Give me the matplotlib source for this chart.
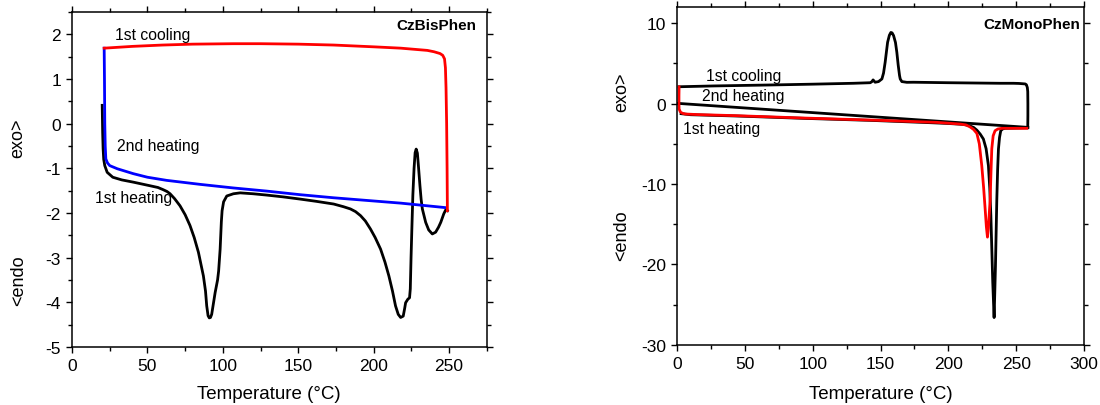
import matplotlib
matplotlib.use("Agg")
import matplotlib.pyplot as plt
from matplotlib.ticker import MultipleLocator

plt.rcParams['font.family'] = ['Liberation Sans', 'DejaVu Sans']
plt.rcParams['axes.unicode_minus'] = False

# ---- CzBisPhen (left panel) ----
bis_heat1_T = [20.0, 20.3, 20.6, 21.0, 21.7, 23.3, 27, 33, 40.6, 51.6, 57, 60.5, 63, 65, 68, 71.6, 75, 78.2,
               81, 83.8, 87.1, 88.5, 89.3, 90.2, 91, 91.8, 92.6, 94.9, 96.5, 97.2, 98.2, 99.0, 99.5, 100.5,
               102.6, 107, 111.5, 120, 129.2, 140, 151.4, 162, 173.5, 180, 184.6, 188, 191.3, 194.5, 197.9,
               201, 204.6, 207.5, 210.1, 212.5, 214.5, 216.3, 217.9, 219.6, 220.5, 221.2, 222.7, 223.8,
               224.3, 224.8, 225.3, 226.0, 226.8, 227.5, 228.2, 229.0, 229.7, 230.7, 231.5, 232.3, 234.5,
               236.5, 238.9, 241.1, 243, 244.5, 246.5, 247.8, 248.9]
bis_heat1_v = [0.41, -0.2, -0.56, -0.8, -0.94, -1.09, -1.2, -1.26, -1.31, -1.39, -1.43, -1.48, -1.52, -1.57,
               -1.68, -1.84, -2.04, -2.28, -2.55, -2.88, -3.41, -3.75, -4.08, -4.3, -4.35, -4.34, -4.27,
               -3.78, -3.5, -3.3, -2.81, -2.2, -1.95, -1.75, -1.62, -1.57, -1.55, -1.57, -1.6, -1.64, -1.69,
               -1.74, -1.80, -1.86, -1.91, -1.97, -2.06, -2.18, -2.36, -2.55, -2.81, -3.1, -3.41, -3.75,
               -4.08, -4.27, -4.34, -4.31, -4.15, -4.01, -3.93, -3.9, -3.7, -3.0, -2.4, -1.6, -1.0, -0.65,
               -0.57, -0.66, -0.95, -1.39, -1.7, -1.91, -2.21, -2.38, -2.47, -2.43, -2.32, -2.21, -2.02,
               -1.93, -1.95]

bis_cool_T = [248.9, 248.7, 248.4, 248.0, 247.6, 247.0, 245.8, 244, 240, 235.6, 225, 218, 200, 173.5, 150,
              125, 107, 80, 60, 40, 21.3]
bis_cool_v = [-1.95, -1.0, 0.0, 0.8, 1.25, 1.45, 1.53, 1.57, 1.61, 1.64, 1.67, 1.69, 1.72, 1.76, 1.78,
              1.79, 1.79, 1.78, 1.76, 1.73, 1.69]

bis_heat2_T = [21.3, 21.5, 21.7, 22.0, 22.4, 23.5, 25, 30, 40.6, 50, 62.7, 85, 107, 129, 151, 173.5, 195.7,
               218, 247.5]
bis_heat2_v = [1.69, 1.0, 0.0, -0.5, -0.79, -0.88, -0.94, -1.01, -1.12, -1.2, -1.27, -1.36, -1.44, -1.51,
               -1.59, -1.66, -1.72, -1.78, -1.88]

# ---- CzMonoPhen (right panel) ----
mono_heat1_T = [3, 10, 44.2, 93.3, 142.4, 186.6, 200, 211, 215, 218.5, 221, 223.5, 225.8, 227.8, 229.5,
                230.5, 231.3, 232.0, 232.7, 233.7, 234.2, 234.7, 235.2, 235.7, 236.3, 236.9, 237.7, 238.6,
                240, 241.7, 258.5]
mono_heat1_v = [-1.25, -1.38, -1.54, -1.83, -2.08, -2.37, -2.47, -2.58, -2.72, -2.95, -3.3, -3.8, -4.4,
                -5.6, -7.7, -10.5, -13.9, -18, -22.2, -26.6, -23.5, -20.2, -16, -11.9, -8.2, -5.65, -4.2,
                -3.37, -3.15, -3.07, -3.0]

mono_cool_T = [258.5, 258.6, 258.6, 258.5, 258.2, 257.5, 256.6, 252, 248, 238, 200, 174.3, 169.4, 165.7,
               164.5, 164, 163, 162, 161, 159.6, 158.5, 157.6, 156.5, 155.2, 154.3, 153.4, 152.2, 151,
               148.5, 146, 144.5, 143.6, 142.4, 130, 100, 68.7, 27, 1.5]
mono_cool_v = [-2.95, -1.5, 0.0, 1.5, 2.0, 2.35, 2.45, 2.51, 2.53, 2.53, 2.6, 2.66, 2.65, 2.74, 3.07, 3.49,
               4.8, 6.39, 7.6, 8.46, 8.8, 8.85, 8.5, 7.63, 6.4, 5.15, 3.8, 3.07, 2.74, 2.66, 2.95, 2.73,
               2.6, 2.53, 2.42, 2.32, 2.2, 2.1]

mono_heat2_T = [1.5, 1.4, 1.4, 1.5, 2.5, 4, 6.1, 15, 44.2, 93.3, 142.4, 191.5, 208.7, 213, 216, 218.5, 221,
                222.8, 224.6, 226, 227.1, 228.0, 228.8, 229.5, 230.2, 230.8, 231.4, 232, 233, 234.4, 236.5,
                239.4, 257.8]
mono_heat2_v = [2.08, 1.0, 0.0, -0.67, -1.05, -1.2, -1.29, -1.36, -1.5, -1.79, -2.04, -2.33, -2.54, -2.65,
                -2.9, -3.2, -3.7, -5.0, -7.7, -10.5, -13.1, -15.3, -16.6, -15.5, -13.5, -11.9, -8.5, -5.6,
                -4.0, -3.37, -3.15, -3.07, -3.07]

mono_line_T = [0.0, 258.5]
mono_line_v = [0.04, -2.95]

fig = plt.figure(figsize=(11, 4.06), dpi=100)
ax1 = fig.add_axes([0.0655, 0.143, 0.377, 0.825])
ax2 = fig.add_axes([0.6155, 0.148, 0.370, 0.832])

lw = 2.0
ax1.plot(bis_heat1_T, bis_heat1_v, color='black', lw=lw)
ax1.plot(bis_heat2_T, bis_heat2_v, color='#0000ff', lw=lw)
ax1.plot(bis_cool_T, bis_cool_v, color='#ff0000', lw=lw)

ax2.plot(mono_line_T, mono_line_v, color='black', lw=lw)
ax2.plot(mono_heat1_T, mono_heat1_v, color='black', lw=lw)
ax2.plot(mono_cool_T, mono_cool_v, color='black', lw=lw)
ax2.plot(mono_heat2_T, mono_heat2_v, color='#ff0000', lw=lw)

ax1.set_xlim(0, 275)
ax1.set_ylim(-5, 2.5)
ax1.xaxis.set_major_locator(MultipleLocator(50))
ax1.xaxis.set_minor_locator(MultipleLocator(25))
ax1.yaxis.set_major_locator(MultipleLocator(1))
ax1.yaxis.set_minor_locator(MultipleLocator(0.5))

ax2.set_xlim(0, 300)
ax2.set_ylim(-30, 12)
ax2.xaxis.set_major_locator(MultipleLocator(50))
ax2.xaxis.set_minor_locator(MultipleLocator(25))
ax2.yaxis.set_major_locator(MultipleLocator(10))
ax2.yaxis.set_minor_locator(MultipleLocator(5))

for ax in (ax1, ax2):
    ax.tick_params(which='both', direction='out', top=True, right=True, labelsize=12.5, width=1.0)
    ax.tick_params(which='major', length=4.5)
    ax.tick_params(which='minor', length=3)
    for sp in ax.spines.values():
        sp.set_linewidth(1.1)
    ax.set_xlabel('Temperature (°C)', fontsize=13.5, labelpad=5)

ax1.xaxis.set_label_coords(0.475, -0.115)
ax2.xaxis.set_label_coords(0.5, -0.12)

# y labels: exo> on top, <endo below
ax1.text(-0.13, 0.627, 'exo>', transform=ax1.transAxes, rotation=90, ha='center', va='center', fontsize=13)
ax1.text(-0.13, 0.20, '<endo', transform=ax1.transAxes, rotation=90, ha='center', va='center', fontsize=13)
ax2.text(-0.135, 0.75, 'exo>', transform=ax2.transAxes, rotation=90, ha='center', va='center', fontsize=13)
ax2.text(-0.135, 0.325, '<endo', transform=ax2.transAxes, rotation=90, ha='center', va='center', fontsize=13)

fs = 11.3
ax1.text(28.4, 2.0, '1st cooling', fontsize=fs, va='center')
ax1.text(29.9, -0.49, '2nd heating', fontsize=fs, va='center')
ax1.text(15.1, -1.66, '1st heating', fontsize=fs, va='center')
ax1.text(268.4, 2.21, 'CzBisPhen', fontsize=11, fontweight='bold', ha='right', va='center')

ax2.text(21.6, 3.56, '1st cooling', fontsize=fs, va='center')
ax2.text(18.4, 1.07, '2nd heating', fontsize=fs, va='center')
ax2.text(4.7, -3.07, '1st heating', fontsize=fs, va='center')
ax2.text(297, 9.9, 'CzMonoPhen', fontsize=11, fontweight='bold', ha='right', va='center')

fig.savefig('out.png', dpi=100)
